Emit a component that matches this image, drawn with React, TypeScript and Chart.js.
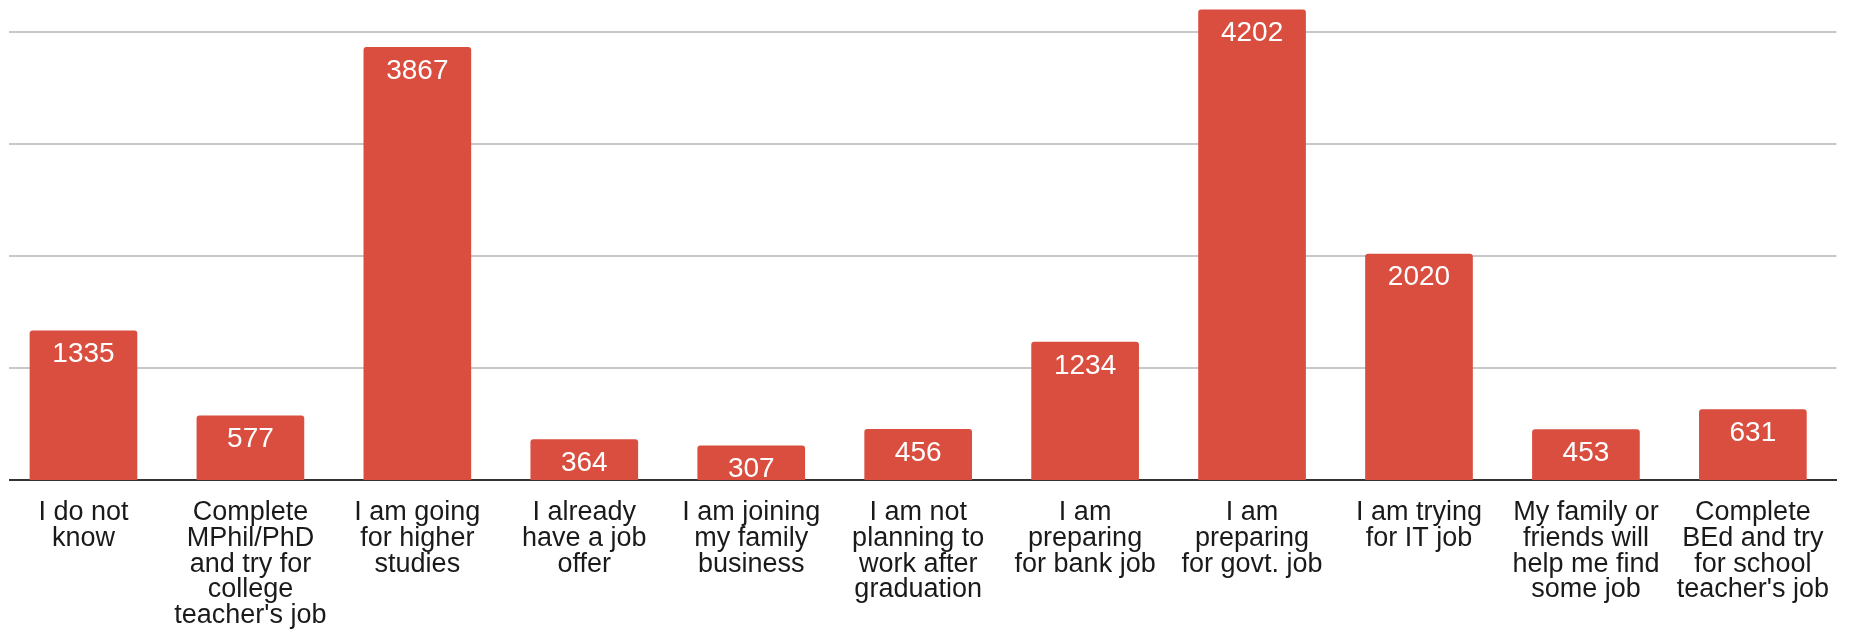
import React, { useEffect, useRef } from "react";
import { Chart, registerables } from "chart.js";

Chart.register(...registerables);

const categories: string[][] = [
  ["I do not", "know"],
  ["Complete", "MPhil/PhD", "and try for", "college", "teacher's job"],
  ["I am going", "for higher", "studies"],
  ["I already", "have a job", "offer"],
  ["I am joining", "my family", "business"],
  ["I am not", "planning to", "work after", "graduation"],
  ["I am", "preparing", "for bank job"],
  ["I am", "preparing", "for govt. job"],
  ["I am trying", "for IT job"],
  ["My family or", "friends will", "help me find", "some job"],
  ["Complete", "BEd and try", "for school", "teacher's job"],
];

const counts: number[] = [1335, 577, 3867, 364, 307, 456, 1234, 4202, 2020, 453, 631];

const gridValues: number[] = [1000, 2000, 3000, 4000];

const W = 1849;
const H = 633;
const FONT = "'Liberation Sans', Arial, sans-serif";

const valueLabels = {
  id: "valueLabels",
  afterDatasetsDraw(chart: any) {
    const { ctx } = chart;
    const meta = chart.getDatasetMeta(0);
    ctx.save();
    ctx.fillStyle = "#ffffff";
    ctx.font = `28px ${FONT}`;
    ctx.textAlign = "center";
    ctx.textBaseline = "middle";
    meta.data.forEach((bar: any, i: number) => {
      ctx.fillText(String(counts[i]), bar.x, bar.y + 24);
    });
    ctx.restore();
  },
};

const gridAndMask = {
  id: "gridAndMask",
  beforeDatasetsDraw(chart: any) {
    const { ctx, chartArea, scales } = chart;
    ctx.save();
    ctx.strokeStyle = "#c8c8c8";
    ctx.lineWidth = 2;
    gridValues.forEach((v) => {
      const y = Math.round(scales.y.getPixelForValue(v));
      ctx.beginPath();
      ctx.moveTo(chartArea.left + 9, y);
      ctx.lineTo(chartArea.right, y);
      ctx.stroke();
    });
    ctx.fillStyle = "#ffffff";
    ctx.fillRect(chartArea.left, chartArea.bottom - 4, 9, 8);
    ctx.restore();
  },
};

export default function App() {
  const ref = useRef<HTMLCanvasElement | null>(null);
  useEffect(() => {
    if (!ref.current) return;
    const chart = new Chart(ref.current, {
      type: "bar",
      data: {
        labels: categories,
        datasets: [
          {
            data: counts,
            backgroundColor: "#D94E3F",
            borderRadius: { topLeft: 3, topRight: 3, bottomLeft: 0, bottomRight: 0 },
            borderSkipped: "bottom",
            categoryPercentage: 1,
            barPercentage: 0.645,
          },
        ],
      },
      options: {
        animation: false,
        responsive: false,
        layout: { padding: 0 },
        plugins: {
          legend: { display: false },
          tooltip: { enabled: false },
        },
        scales: {
          x: {
            grid: { display: false, drawTicks: false },
            border: { display: true, color: "#333333", width: 2 },
            ticks: {
              autoSkip: false,
              maxRotation: 0,
              minRotation: 0,
              color: "#1a1a1a",
              font: { family: FONT, size: 27, lineHeight: 0.95 },
              padding: 20,
            },
            afterFit(scale: any) {
              scale.height = H - 480;
            },
          },
          y: {
            min: 0,
            max: 4286,
            border: { display: false },
            grid: { display: false, drawTicks: false },
            ticks: { display: false },
            afterFit(scale: any) {
              scale.width = 0;
            },
          },
        },
      },
      plugins: [gridAndMask, valueLabels],
    });
    return () => chart.destroy();
  }, []);
  return (
    <div style={{ position: "absolute", left: 0, top: 0, width: W, height: H, background: "#fff" }}>
      <canvas ref={ref} width={W} height={H} style={{ width: W, height: H, display: "block" }} />
    </div>
  );
}
